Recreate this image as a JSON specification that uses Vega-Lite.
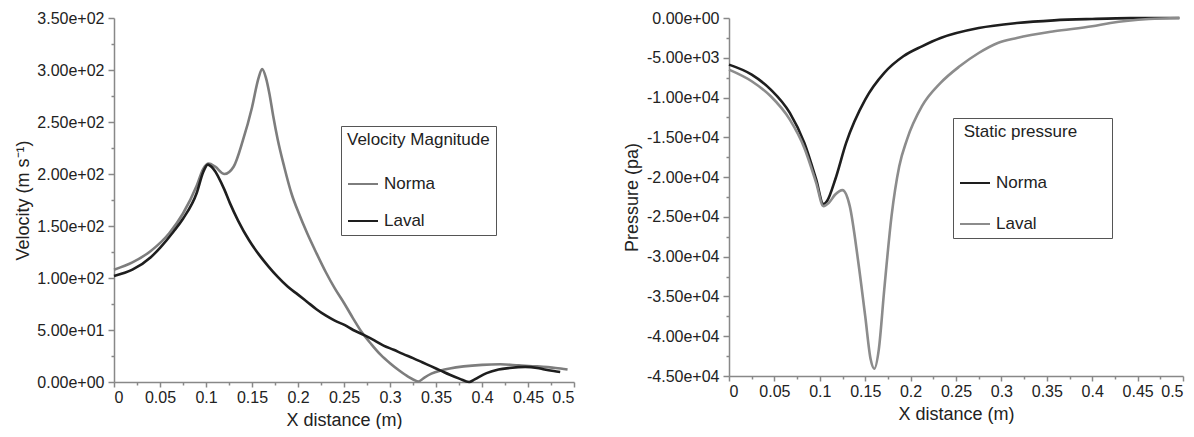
{
  "$schema": "https://vega.github.io/schema/vega-lite/v6.json",
  "padding": {"left": 14, "top": 10, "right": 0, "bottom": 0},
  "background": "white",
  "config": {
    "font": "Liberation Sans",
    "view": {"stroke": null},
    "axis": {
      "labelFont": "Liberation Sans", "titleFont": "Liberation Sans",
      "labelFontSize": 16, "titleFontSize": 18, "titleFontWeight": "normal",
      "labelColor": "#222", "titleColor": "#222",
      "domainColor": "#888", "domainWidth": 1.5, "tickColor": "#888", "tickWidth": 1.5,
      "grid": false, "labelOverlap": false, "labelBound": false
    },
    "legend": {"titleFontWeight": "normal", "titleFont": "Liberation Sans", "labelFont": "Liberation Sans"}
  },
  "datasets": {
    "vel": [
      {"x": 0, "v": 108, "s": "Norma"}, {"x": 0.02, "v": 115, "s": "Norma"}, {"x": 0.04, "v": 126, "s": "Norma"},
      {"x": 0.06, "v": 143, "s": "Norma"}, {"x": 0.075, "v": 162, "s": "Norma"}, {"x": 0.09, "v": 189, "s": "Norma"},
      {"x": 0.097, "v": 205, "s": "Norma"}, {"x": 0.103, "v": 210, "s": "Norma"}, {"x": 0.11, "v": 207, "s": "Norma"},
      {"x": 0.12, "v": 200, "s": "Norma"}, {"x": 0.13, "v": 207, "s": "Norma"}, {"x": 0.14, "v": 232, "s": "Norma"},
      {"x": 0.15, "v": 264, "s": "Norma"}, {"x": 0.157, "v": 292, "s": "Norma"}, {"x": 0.161, "v": 301, "s": "Norma"},
      {"x": 0.165, "v": 293, "s": "Norma"}, {"x": 0.169, "v": 277, "s": "Norma"}, {"x": 0.173, "v": 256, "s": "Norma"},
      {"x": 0.178, "v": 233, "s": "Norma"}, {"x": 0.185, "v": 207, "s": "Norma"}, {"x": 0.193, "v": 181, "s": "Norma"},
      {"x": 0.201, "v": 162, "s": "Norma"}, {"x": 0.21, "v": 143, "s": "Norma"}, {"x": 0.22, "v": 124, "s": "Norma"},
      {"x": 0.23, "v": 106, "s": "Norma"}, {"x": 0.24, "v": 90, "s": "Norma"}, {"x": 0.25, "v": 76, "s": "Norma"},
      {"x": 0.26, "v": 61, "s": "Norma"}, {"x": 0.27, "v": 47, "s": "Norma"}, {"x": 0.28, "v": 36, "s": "Norma"},
      {"x": 0.29, "v": 26, "s": "Norma"}, {"x": 0.3, "v": 18, "s": "Norma"}, {"x": 0.31, "v": 11, "s": "Norma"},
      {"x": 0.32, "v": 5, "s": "Norma"}, {"x": 0.331, "v": 0.5, "s": "Norma"}, {"x": 0.337, "v": 4, "s": "Norma"},
      {"x": 0.345, "v": 8, "s": "Norma"}, {"x": 0.355, "v": 11, "s": "Norma"}, {"x": 0.365, "v": 13, "s": "Norma"},
      {"x": 0.38, "v": 15, "s": "Norma"}, {"x": 0.4, "v": 16.5, "s": "Norma"}, {"x": 0.42, "v": 17, "s": "Norma"},
      {"x": 0.44, "v": 16, "s": "Norma"}, {"x": 0.46, "v": 15, "s": "Norma"}, {"x": 0.48, "v": 13.5, "s": "Norma"},
      {"x": 0.493, "v": 12, "s": "Norma"},
      {"x": 0, "v": 102, "s": "Laval"}, {"x": 0.02, "v": 108, "s": "Laval"}, {"x": 0.04, "v": 120, "s": "Laval"},
      {"x": 0.051, "v": 130, "s": "Laval"}, {"x": 0.065, "v": 145, "s": "Laval"}, {"x": 0.075, "v": 157, "s": "Laval"},
      {"x": 0.09, "v": 182, "s": "Laval"}, {"x": 0.097, "v": 202, "s": "Laval"}, {"x": 0.102, "v": 209, "s": "Laval"},
      {"x": 0.108, "v": 205, "s": "Laval"}, {"x": 0.12, "v": 185, "s": "Laval"}, {"x": 0.126, "v": 172, "s": "Laval"},
      {"x": 0.135, "v": 155, "s": "Laval"}, {"x": 0.147, "v": 136, "s": "Laval"}, {"x": 0.158, "v": 122, "s": "Laval"},
      {"x": 0.168, "v": 111, "s": "Laval"}, {"x": 0.178, "v": 101, "s": "Laval"}, {"x": 0.189, "v": 91.5, "s": "Laval"},
      {"x": 0.2, "v": 84, "s": "Laval"}, {"x": 0.21, "v": 77, "s": "Laval"}, {"x": 0.22, "v": 70, "s": "Laval"},
      {"x": 0.23, "v": 64, "s": "Laval"}, {"x": 0.24, "v": 59, "s": "Laval"}, {"x": 0.251, "v": 54.6, "s": "Laval"},
      {"x": 0.26, "v": 50, "s": "Laval"}, {"x": 0.272, "v": 45, "s": "Laval"}, {"x": 0.283, "v": 40, "s": "Laval"},
      {"x": 0.293, "v": 35, "s": "Laval"}, {"x": 0.304, "v": 31, "s": "Laval"}, {"x": 0.314, "v": 27, "s": "Laval"},
      {"x": 0.325, "v": 23, "s": "Laval"}, {"x": 0.335, "v": 19, "s": "Laval"}, {"x": 0.345, "v": 15, "s": "Laval"},
      {"x": 0.355, "v": 11, "s": "Laval"}, {"x": 0.365, "v": 7, "s": "Laval"}, {"x": 0.376, "v": 3, "s": "Laval"},
      {"x": 0.386, "v": 0, "s": "Laval"}, {"x": 0.392, "v": 2.5, "s": "Laval"}, {"x": 0.397, "v": 5, "s": "Laval"},
      {"x": 0.405, "v": 8.5, "s": "Laval"}, {"x": 0.418, "v": 12, "s": "Laval"}, {"x": 0.43, "v": 13.5, "s": "Laval"},
      {"x": 0.447, "v": 14.5, "s": "Laval"}, {"x": 0.46, "v": 13.5, "s": "Laval"}, {"x": 0.468, "v": 12, "s": "Laval"},
      {"x": 0.478, "v": 10.5, "s": "Laval"}, {"x": 0.485, "v": 9.6, "s": "Laval"}
    ],
    "pres": [
      {"x": 0, "p": -5860, "s": "Norma"}, {"x": 0.025, "p": -7116, "s": "Norma"}, {"x": 0.046, "p": -9000, "s": "Norma"},
      {"x": 0.067, "p": -11930, "s": "Norma"}, {"x": 0.083, "p": -15700, "s": "Norma"}, {"x": 0.096, "p": -20300, "s": "Norma"},
      {"x": 0.104, "p": -23400, "s": "Norma"}, {"x": 0.108, "p": -23000, "s": "Norma"}, {"x": 0.117, "p": -20300, "s": "Norma"},
      {"x": 0.129, "p": -15700, "s": "Norma"}, {"x": 0.15, "p": -10260, "s": "Norma"}, {"x": 0.171, "p": -6900, "s": "Norma"},
      {"x": 0.192, "p": -4810, "s": "Norma"}, {"x": 0.2125, "p": -3560, "s": "Norma"}, {"x": 0.233, "p": -2510, "s": "Norma"},
      {"x": 0.275, "p": -1256, "s": "Norma"}, {"x": 0.317, "p": -628, "s": "Norma"}, {"x": 0.358, "p": -293, "s": "Norma"},
      {"x": 0.4, "p": -126, "s": "Norma"}, {"x": 0.442, "p": -20, "s": "Norma"}, {"x": 0.496, "p": 0, "s": "Norma"},
      {"x": 0, "p": -6490, "s": "Laval"}, {"x": 0.025, "p": -7950, "s": "Laval"}, {"x": 0.046, "p": -9840, "s": "Laval"},
      {"x": 0.067, "p": -12770, "s": "Laval"}, {"x": 0.083, "p": -16330, "s": "Laval"}, {"x": 0.096, "p": -20720, "s": "Laval"},
      {"x": 0.104, "p": -23650, "s": "Laval"}, {"x": 0.11, "p": -23230, "s": "Laval"}, {"x": 0.117, "p": -22190, "s": "Laval"},
      {"x": 0.125, "p": -21640, "s": "Laval"}, {"x": 0.133, "p": -23650, "s": "Laval"}, {"x": 0.142, "p": -30350, "s": "Laval"},
      {"x": 0.15, "p": -37460, "s": "Laval"}, {"x": 0.156, "p": -42900, "s": "Laval"}, {"x": 0.16, "p": -44080, "s": "Laval"},
      {"x": 0.165, "p": -41650, "s": "Laval"}, {"x": 0.171, "p": -34110, "s": "Laval"}, {"x": 0.179, "p": -24900, "s": "Laval"},
      {"x": 0.1875, "p": -18630, "s": "Laval"}, {"x": 0.196, "p": -15280, "s": "Laval"}, {"x": 0.2125, "p": -11090, "s": "Laval"},
      {"x": 0.233, "p": -8160, "s": "Laval"}, {"x": 0.254, "p": -6070, "s": "Laval"}, {"x": 0.275, "p": -4400, "s": "Laval"},
      {"x": 0.296, "p": -3140, "s": "Laval"}, {"x": 0.317, "p": -2510, "s": "Laval"}, {"x": 0.358, "p": -1674, "s": "Laval"},
      {"x": 0.4, "p": -1046, "s": "Laval"}, {"x": 0.42, "p": -628, "s": "Laval"}, {"x": 0.4625, "p": -126, "s": "Laval"},
      {"x": 0.496, "p": 0, "s": "Laval"}
    ]
  },
  "resolve": {"scale": {"color": "independent"}, "legend": {"color": "independent"}},
  "spacing": 48,
  "hconcat": [
    {
      "width": 460, "height": 364,
      "data": {"name": "vel"},
      "mark": {"type": "line", "strokeWidth": 2.6, "interpolate": "monotone"},
      "encoding": {
        "x": {"field": "x", "type": "quantitative", "scale": {"domain": [0, 0.5], "nice": false},
          "axis": {"title": "X distance (m)", "values": [0,0.025,0.05,0.075,0.1,0.125,0.15,0.175,0.2,0.225,0.25,0.275,0.3,0.325,0.35,0.375,0.4,0.425,0.45,0.475,0.5],
            "labelExpr": "abs(datum.value*20 - round(datum.value*20)) < 1e-6 ? format(datum.value, '~g') : ''",
            "tickSize": {"condition": {"test": "abs(datum.value*20 - round(datum.value*20)) < 1e-6", "value": 5}, "value": 3},
            "labelFlush": true, "labelPadding": 2, "titlePadding": 6}},
        "y": {"field": "v", "type": "quantitative", "scale": {"domain": [0, 350], "nice": false},
          "axis": {"title": "Velocity (m s⁻¹)", "values": [0,25,50,75,100,125,150,175,200,225,250,275,300,325,350],
            "labelExpr": "datum.value % 50 == 0 ? replace(replace(format(datum.value, '.2e'), 'e+', 'e+0'), '−', '-') : ''",
            "tickSize": {"condition": {"test": "datum.value % 50 == 0", "value": 6}, "value": 3},
            "labelPadding": 4, "titlePadding": 4}},
        "color": {"field": "s", "type": "nominal",
          "scale": {"domain": ["Norma", "Laval"], "range": ["#7d7d7d", "#1e1e1e"]},
          "legend": {"title": "Velocity Magnitude", "orient": "none", "legendX": 227, "legendY": 108,
            "symbolType": "stroke", "symbolSize": 900, "symbolStrokeWidth": 2,
            "strokeColor": "#555", "padding": 6,
            "titleFontSize": 17, "labelFontSize": 17, "titleColor": "#222", "labelColor": "#222",
            "titlePadding": 19, "rowPadding": 13, "labelOffset": 5}}
      }
    },
    {
      "width": 454, "height": 358,
      "data": {"name": "pres"},
      "mark": {"type": "line", "strokeWidth": 2.6, "interpolate": "monotone"},
      "encoding": {
        "x": {"field": "x", "type": "quantitative", "scale": {"domain": [0, 0.5], "nice": false},
          "axis": {"title": "X distance (m)", "values": [0,0.025,0.05,0.075,0.1,0.125,0.15,0.175,0.2,0.225,0.25,0.275,0.3,0.325,0.35,0.375,0.4,0.425,0.45,0.475,0.5],
            "labelExpr": "abs(datum.value*20 - round(datum.value*20)) < 1e-6 ? format(datum.value, '~g') : ''",
            "tickSize": {"condition": {"test": "abs(datum.value*20 - round(datum.value*20)) < 1e-6", "value": 5}, "value": 3},
            "labelFlush": true, "labelPadding": 2, "titlePadding": 6}},
        "y": {"field": "p", "type": "quantitative", "scale": {"domain": [-45000, 0], "nice": false},
          "axis": {"title": "Pressure (pa)", "values": [0,-2500,-5000,-7500,-10000,-12500,-15000,-17500,-20000,-22500,-25000,-27500,-30000,-32500,-35000,-37500,-40000,-42500,-45000],
            "labelExpr": "datum.value % 5000 == 0 ? replace(replace(format(datum.value, '.2e'), 'e+', 'e+0'), '−', '-') : ''",
            "tickSize": {"condition": {"test": "datum.value % 5000 == 0", "value": 6}, "value": 3},
            "labelPadding": 4, "titlePadding": 5}},
        "color": {"field": "s", "type": "nominal",
          "scale": {"domain": ["Norma", "Laval"], "range": ["#1e1e1e", "#8c8c8c"]},
          "legend": {"title": "\u200d\u00a0Static pressure\u00a0\u00a0\u00a0\u00a0\u00a0\u00a0\u200d", "orient": "none", "legendX": 224, "legendY": 100,
            "symbolType": "stroke", "symbolSize": 900, "symbolStrokeWidth": 2,
            "strokeColor": "#555", "padding": 6,
            "titleFontSize": 17, "labelFontSize": 17, "titleColor": "#222", "labelColor": "#222",
            "titlePadding": 26, "rowPadding": 17, "labelOffset": 5}}
      }
    }
  ]
}
